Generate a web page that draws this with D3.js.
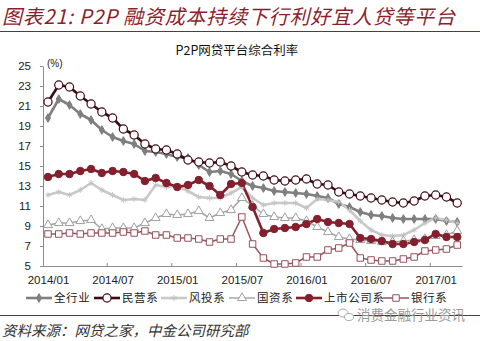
<!DOCTYPE html>
<html><head><meta charset="utf-8">
<script src="https://cdn.jsdelivr.net/npm/d3@7"></script>
<style>body{margin:0;background:#fff}svg{display:block}</style>
</head><body>
<svg id="c" width="480" height="341"></svg>
<script>
const months=["2014/01","2014/02","2014/03","2014/04","2014/05","2014/06","2014/07","2014/08","2014/09","2014/10","2014/11","2014/12",
"2015/01","2015/02","2015/03","2015/04","2015/05","2015/06","2015/07","2015/08","2015/09","2015/10","2015/11","2015/12",
"2016/01","2016/02","2016/03","2016/04","2016/05","2016/06","2016/07","2016/08","2016/09","2016/10","2016/11","2016/12",
"2017/01","2017/02","2017/03"];
const xTickLabels=["2014/01","2014/07","2015/01","2015/07","2016/01","2016/07","2017/01"];
const yTicks=[5,7,9,11,13,15,17,19,21,23,25];
const seriesNames=["全行业","民营系","风投系","国资系","上市公司系","银行系"];
const allIndustry=[19.8,21.7,21.1,20.2,19.6,18.6,17.9,17.5,17.2,16.5,16.4,16.2,15.9,15.8,15.1,14.4,14.5,14.2,13.5,13.0,12.8,12.5,12.4,12.3,12.2,12.0,11.8,11.2,10.9,10.4,10.1,10.0,9.8,9.7,9.7,9.7,9.7,9.5,9.4];
const privateFirms=[21.4,23.1,22.9,22.0,21.2,20.4,19.8,18.7,18.1,17.2,16.7,16.6,16.2,15.6,15.4,15.3,15.4,15.0,14.4,14.1,14.0,13.6,13.5,13.6,13.7,13.2,13.1,12.4,12.2,12.0,11.8,11.6,11.4,11.3,11.5,12.0,12.1,11.9,11.3];
const ventureBacked=[12.1,12.4,12.1,12.6,13.3,12.6,12.1,11.6,11.7,11.6,13.1,12.9,13.0,12.5,11.9,11.8,11.8,12.3,12.9,11.8,11.1,11.3,11.3,11.3,10.8,11.7,11.6,11.4,10.6,9.5,8.6,8.1,8.0,8.1,8.6,9.3,9.8,9.6,9.3];
const stateOwned=[9.1,9.3,9.3,9.5,9.6,8.7,8.8,8.8,8.8,9.3,9.8,10.2,10.1,10.2,10.5,9.8,10.3,10.6,11.8,11.0,10.2,9.9,9.8,9.8,9.5,8.9,8.4,7.9,7.7,7.6,7.5,7.4,7.4,7.5,7.6,7.7,8.0,8.1,8.5];
const listedCos=[13.9,14.2,14.2,14.5,14.7,14.3,14.5,14.4,14.2,13.5,13.8,13.3,12.9,13.1,13.6,13.0,12.1,13.2,13.3,10.9,8.3,8.7,8.8,8.9,9.2,9.7,9.4,9.3,9.2,7.8,7.7,7.5,7.2,7.2,7.4,7.6,8.2,7.9,7.9];
const bankBacked=[8.2,8.2,8.3,8.2,8.3,8.3,8.3,8.4,8.3,8.5,8.1,8.1,7.8,7.8,7.7,7.4,7.7,7.7,9.9,7.2,5.8,5.2,5.2,5.3,5.9,5.9,6.6,6.8,7.3,5.8,5.6,5.5,5.5,5.7,5.9,6.5,6.6,6.7,7.1];

const styles=[
 {data:allIndustry,color:"#7f7f7f",w:2.6,sym:d3.symbolDiamond,size:22,fill:"#7f7f7f",stroke:"#7f7f7f",sw:1},
 {data:privateFirms,color:"#3d0b14",w:2.6,sym:d3.symbolCircle,size:52,fill:"#fff",stroke:"#3d0b14",sw:1.2},
 {data:ventureBacked,color:"#c9c9c9",w:2.6,sym:d3.symbolAsterisk,size:22,fill:"none",stroke:"#c4c4c4",sw:1},
 {data:stateOwned,color:"#a6a6a6",w:1.5,sym:d3.symbolTriangle,size:34,fill:"#fff",stroke:"#a0a0a0",sw:1},
 {data:listedCos,color:"#84202e",w:2.6,sym:d3.symbolCircle,size:44,fill:"#84202e",stroke:"#84202e",sw:1},
 {data:bankBacked,color:"#9a5560",w:1.5,sym:d3.symbolSquare,size:42,fill:"#fff",stroke:"#94505b",sw:1}
];

const svg=d3.select("#c");
const font="'Liberation Sans',Arial,'Noto Sans CJK SC',sans-serif";
const cjk="'Noto Sans CJK SC','Liberation Sans',sans-serif";

// Title
svg.append("text").attr("x",2).attr("y",24).attr("font-family",cjk).attr("font-size",20)
 .attr("font-style","italic").attr("letter-spacing",0.8).attr("fill","#8b1f2f")
 .text("图表21: P2P 融资成本持续下行利好宜人贷等平台");
svg.append("line").attr("x1",0).attr("x2",480).attr("y1",31.5).attr("y2",31.5).attr("stroke","#7a2a33").attr("stroke-width",1);

svg.append("text").attr("x",237).attr("y",55).attr("text-anchor","middle").attr("font-family",cjk)
 .attr("font-size",12.5).attr("fill","#111").text("P2P网贷平台综合利率");

const x=d3.scalePoint().domain(months).range([42.6,462.6]).padding(0.5);
const y=d3.scaleLinear().domain([5,25]).range([266,66]);
const step=x.step();

// y axis
const ya=svg.append("g").attr("transform","translate(43,0)")
 .call(d3.axisLeft(y).tickValues(yTicks).tickSize(3).tickSizeOuter(0).tickPadding(9));
ya.select(".domain").attr("stroke","#8c8c8c");
ya.selectAll(".tick line").attr("stroke","#8c8c8c");
ya.selectAll("text").attr("font-family",font).attr("font-size",11.5).attr("fill","#222");

svg.append("text").attr("x",47).attr("y",67).attr("font-family",font).attr("font-size",10).attr("fill","#222").text("(%)");

// x axis
const xa=svg.append("g").attr("transform","translate(0,266)")
 .call(d3.axisBottom(x).tickValues(xTickLabels).tickSize(0).tickPadding(10));
xa.select(".domain").attr("stroke","#8c8c8c").attr("d","M42.6,0.5H462.6");
xa.selectAll("text").attr("font-family",font).attr("font-size",11.5).attr("fill","#222");
svg.append("g").selectAll("line").data(xTickLabels.slice(1)).join("line")
 .attr("x1",d=>x(d)-step/2).attr("x2",d=>x(d)-step/2).attr("y1",263).attr("y2",267)
 .attr("stroke","#8c8c8c");

// series
const line=d3.line().x((d,i)=>x(months[i])).y(d=>y(d));
styles.forEach(s=>{
 svg.append("path").datum(s.data).attr("d",line).attr("fill","none")
  .attr("stroke",s.color).attr("stroke-width",s.w).attr("stroke-linejoin","round");
});
styles.forEach(s=>{
 svg.append("g").selectAll("path").data(s.data).join("path")
  .attr("transform",(d,i)=>`translate(${x(months[i])},${y(d)})`)
  .attr("d",d3.symbol(s.sym,s.size)).attr("fill",s.fill).attr("stroke",s.stroke).attr("stroke-width",s.sw);
});

// legend
const legX=[26,94,161,229,296,383];
styles.forEach((s,k)=>{
 const g=svg.append("g").attr("transform",`translate(${legX[k]},298)`);
 g.append("line").attr("x1",0).attr("x2",26).attr("stroke",s.color).attr("stroke-width",s.w);
 g.append("path").attr("transform","translate(13,0)").attr("d",d3.symbol(s.sym,s.size))
  .attr("fill",s.fill).attr("stroke",s.stroke).attr("stroke-width",s.sw);
 g.append("text").attr("x",28).attr("y",4).attr("font-family",cjk).attr("font-size",11.5)
  .attr("letter-spacing",0.6).attr("fill","#222").text(seriesNames[k]);
});

// bottom rule and source
svg.append("line").attr("x1",0).attr("x2",480).attr("y1",315.5).attr("y2",315.5).attr("stroke","#7a2a33").attr("stroke-width",1);
svg.append("text").attr("x",2).attr("y",336).attr("font-family",cjk).attr("font-size",14.5)
 .attr("font-style","italic").attr("fill","#333").text("资料来源：网贷之家，中金公司研究部");

// watermark
svg.append("ellipse").attr("cx",343).attr("cy",313).attr("rx",5).attr("ry",4).attr("fill","#fff").attr("stroke","#aaa");
svg.append("ellipse").attr("cx",349).attr("cy",317).attr("rx",4.5).attr("ry",3.5).attr("fill","#fff").attr("stroke","#aaa");
svg.append("text").attr("x",357).attr("y",320).attr("font-family",cjk).attr("font-size",13.5)
 .attr("fill","#9a9a9a").text("消费金融行业资讯");
</script>
</body></html>
